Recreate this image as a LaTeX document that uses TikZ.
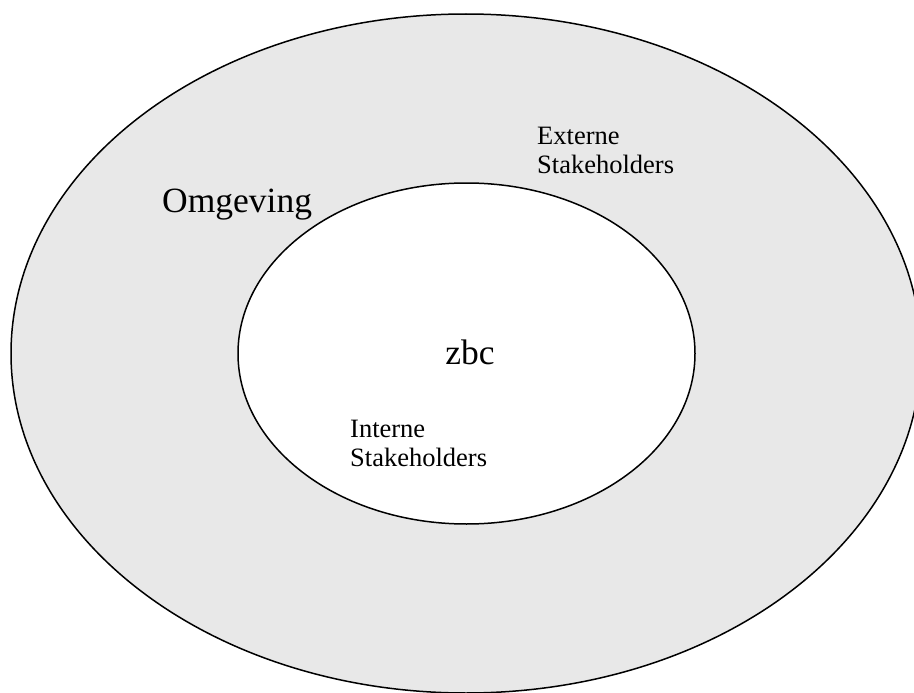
\documentclass[tikz,border=0pt]{standalone}
\usepackage{fontspec}
\setmainfont{Liberation Serif}
\begin{document}
\begin{tikzpicture}[x=1pt,y=-1pt,
  ring/.style={draw=black,line width=1.5pt},
  bigtext/.style={inner sep=0pt,font=\fontsize{35.5}{40}\selectfont},
  smalltext/.style={inner sep=0pt,align=left,font=\fontsize{26.5}{29}\selectfont}]
  \useasboundingbox (0,0) rectangle (914,693);
  % outer field and inner organisation
  \begin{scope}
    \clip (0,0) rectangle (914,693);
    \draw[ring,fill={rgb,255:red,232;green,232;blue,232}] (466,353.5) ellipse [x radius=455, y radius=339.5];
  \end{scope}
  \draw[ring,fill=white] (466.5,353.5) ellipse [x radius=228.5, y radius=170.5];
  \node[bigtext,anchor=base west] (omg) at (162,212) {Omgeving};
  \node[bigtext,anchor=base] (zbc) at (470,364) {zbc};
  % two-line labels: the base anchor sits on the last line
  \node[smalltext,anchor=base west] (ext) at (537,173) {Externe\\Stakeholders};
  \node[smalltext,anchor=base west] (int) at (350,466) {Interne\\Stakeholders};
\end{tikzpicture}
\end{document}
